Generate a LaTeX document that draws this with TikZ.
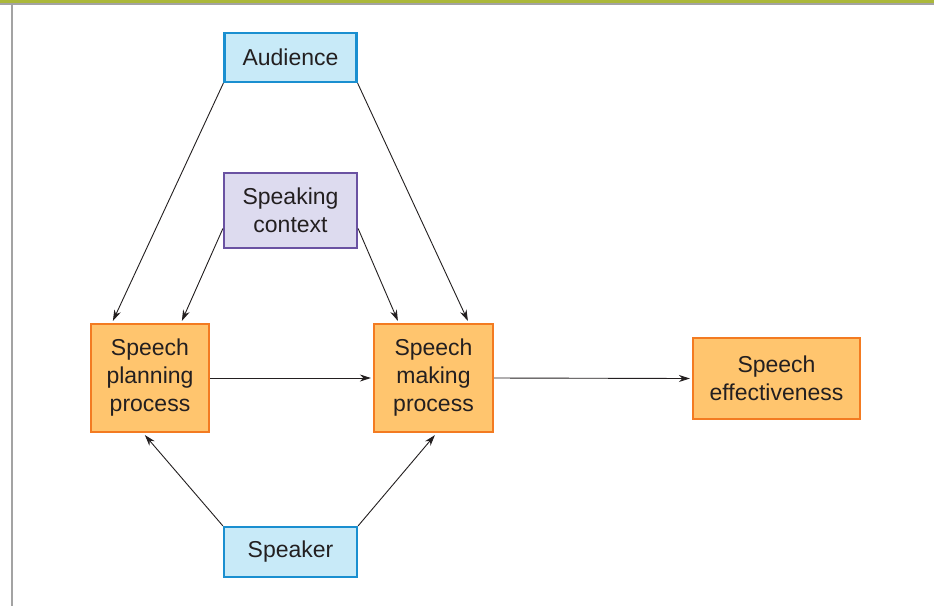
\documentclass[tikz,border=0pt]{standalone}
\usepackage{fontspec}
\setmainfont{Liberation Sans}
\usetikzlibrary{arrows.meta,calc}
\definecolor{barolive}{HTML}{ABB83A}
\definecolor{rulegray}{HTML}{A3A3A3}
\definecolor{bluefill}{HTML}{C8EAF8}
\definecolor{blueline}{HTML}{1A8FD0}
\definecolor{violetfill}{HTML}{DDDBEF}
\definecolor{violetline}{HTML}{6A52A2}
\definecolor{orangefill}{HTML}{FFC56E}
\definecolor{orangeline}{HTML}{F37B21}
\definecolor{ink}{HTML}{231F20}
\tikzset{
  box/.style={rectangle, line width=2.2pt, align=center, inner sep=0pt,
    text=ink, font=\fontsize{23}{28}\selectfont},
  bluebox/.style={box, draw=blueline, fill=bluefill},
  violetbox/.style={box, draw=violetline, fill=violetfill},
  orangebox/.style={box, draw=orangeline, fill=orangefill},
  link/.style={draw=ink, line width=0.9pt, -{Stealth[length=11pt,width=7pt]}}
}
\begin{document}
\begin{tikzpicture}[x=1pt,y=-1pt]
  \useasboundingbox (0,0) rectangle (934,606);
  \fill[white] (0,0) rectangle (934,606);
  % page frame: top band and left rule
  \fill[barolive] (0,0) rectangle (934,3.4);
  \fill[rulegray] (0,3.4) rectangle (934,4.6);
  \fill[rulegray] (10.8,4.6) rectangle (12.6,606);

  % boxes
  \node[bluebox, minimum width=132pt, minimum height=49pt] (aud) at (290.5,57.5) {Audience};
  \node[violetbox, minimum width=133pt, minimum height=75pt] (ctx) at (290.5,210.5) {Speaking\\context};
  \node[orangebox, minimum width=118pt, minimum height=108pt] (plan) at (150,378) {Speech\\planning\\process};
  \node[orangebox, minimum width=119pt, minimum height=108pt] (make) at (433.5,378) {Speech\\making\\process};
  \node[orangebox, minimum width=167pt, minimum height=81pt] (eff) at (776.5,378.5) {Speech\\effectiveness};
  \node[bluebox, minimum width=133pt, minimum height=50pt] (spk) at (290.5,552) {Speaker};

  % influences from above
  \draw[link] (aud.south west) -- ($(plan.north west)+(23,-2)$);
  \draw[link] (aud.south east) -- ($(make.north west)+(95,-2)$);
  \draw[link] ($(ctx.west)+(0,18)$) -- ($(plan.north west)+(92,-2)$);
  \draw[link] ($(ctx.east)+(0,18)$) -- ($(make.north west)+(25,-2)$);

  % main flow
  \draw[link] (plan.east) -- ($(make.west)+(-2,0)$);
  \draw[link] (make.east) -- ($(eff.west)+(-2,0)$);

  % influences from below
  \draw[link] (spk.north west) -- ($(plan.south west)+(55,2)$);
  \draw[link] (spk.north east) -- ($(make.south west)+(62,2)$);
\end{tikzpicture}
\end{document}
